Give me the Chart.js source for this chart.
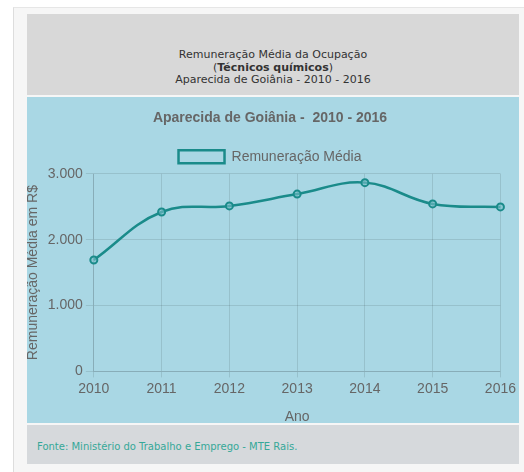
<!DOCTYPE html>
<html lang="pt-BR">
<head>
<meta charset="utf-8">
<title>Remuneração Média da Ocupação</title>
<script src="https://cdn.jsdelivr.net/npm/chart.js@4.4.1/dist/chart.umd.min.js"></script>
<style>
  html, body { margin: 0; padding: 0; background: #fff; }
  .painel {
    position: absolute; left: 13px; top: 7px; width: 520px; height: 470px;
    border-left: 1px solid #ddd; border-top: 1px solid #e6e6e6;
    background: #f6f6f6;
  }
  .cabecalho {
    position: absolute; left: 13px; top: 6px; width: 492px; height: 81px;
    background: #d8d8d8;
    font-family: "DejaVu Sans", Verdana, sans-serif; font-size: 11px;
    color: #333; text-align: center; line-height: 12.5px;
    box-sizing: border-box; padding-top: 35px;
  }
  .grafico {
    position: absolute; left: 13px; top: 89px; width: 492px; height: 326px;
    background: #a9d7e4;
  }
  .grafico .area {
    position: absolute; left: 0; top: 0; width: 492px; height: 330px;
  }
  .rodape {
    position: absolute; left: 13px; top: 417px; width: 492px; height: 39px;
    background: #d6d9dc;
    font-family: "DejaVu Sans", Verdana, sans-serif; font-size: 10px;
    color: #35a898; line-height: 44px; padding-left: 10px; box-sizing: border-box;
  }
</style>
</head>
<body>
<div class="painel">
  <div class="cabecalho">
    Remuneração Média da Ocupação<br>
    (<b>Técnicos químicos</b>)<br>
    Aparecida de Goiânia - 2010 - 2016
  </div>
  <div class="grafico"><div class="area"><canvas id="remuneracao"></canvas></div></div>
  <div class="rodape">Fonte: Ministério do Trabalho e Emprego - MTE Rais.</div>
</div>
<script>
const anos = ["2010", "2011", "2012", "2013", "2014", "2015", "2016"];
const remuneracaoMedia = [1692, 2420, 2512, 2692, 2866, 2543, 2497];
const eixoY = { min: 0, max: 3000, passo: 1000 };

function milhar(v) {
  return String(v).replace(/\B(?=(\d{3})+(?!\d))/g, ".");
}

Chart.defaults.font.family = "'Liberation Sans', Arial, sans-serif";
Chart.defaults.font.size = 14;
Chart.defaults.color = "#666";

const ctx = document.getElementById('remuneracao');

new Chart(ctx, {
  type: 'line',
  data: {
    labels: anos,
    datasets: [{
      label: 'Remuneração Média',
      data: remuneracaoMedia,
      borderColor: "#1a8b8a",
      backgroundColor: "rgba(0,0,0,0)",
      borderWidth: 2.5,
      fill: false,
      tension: 0.4,
      pointRadius: 3.5,
      pointBorderWidth: 2,
      pointBackgroundColor: "rgba(120,190,200,0.6)",
      pointBorderColor: "#1a8b8a"
    }]
  },
  options: {
    responsive: true,
    maintainAspectRatio: false,
    animation: false,
    layout: { padding: { left: -2, right: 4, top: 11, bottom: 1 } },
    plugins: {
      title: {
        display: true,
        text: 'Aparecida de Goiânia -  2010 - 2016',
        font: { size: 14, weight: 'bold' },
        padding: { top: 2, bottom: 11 }
      },
      legend: {
        display: true,
        labels: { boxWidth: 46, boxHeight: 13, padding: 12 }
      },
      tooltip: { enabled: false }
    },
    scales: {
      x: {
        title: { display: true, text: 'Ano', padding: { top: 9, bottom: 0 } },
        grid: {
          color: "rgba(0,0,0,0.1)",
          tickLength: 6
        },
        ticks: { padding: 3 }
      },
      y: {
        min: eixoY.min,
        max: eixoY.max,
        title: { display: true, text: 'Remuneração Média em R$', padding: { top: 0, bottom: 3 } },
        grid: {
          color: "rgba(0,0,0,0.1)",
          tickLength: 8
        },
        ticks: {
          stepSize: eixoY.passo,
          padding: 3,
          callback: v => milhar(v)
        }
      }
    }
  }
});
</script>
</body>
</html>
